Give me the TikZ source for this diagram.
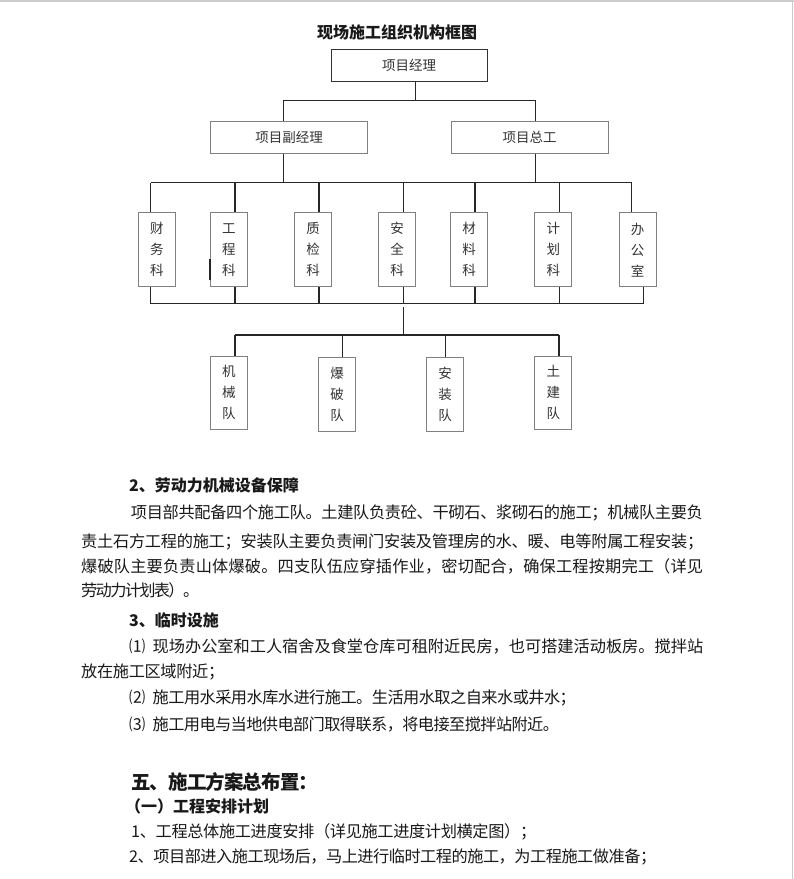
\documentclass[tikz,border=0pt]{standalone}
\usepackage{fontspec}
\setmainfont{Noto Sans CJK SC}
\usepackage{tikz}

% spread the characters of a line over a fixed width
\def\spreadtext#1{\spreadstep#1\relax\relax}
\def\spreadstep#1#2{#1\ifx\relax#2\else\hskip 0pt plus 1fil minus 1fil\expandafter\spreadstep\expandafter#2\fi}
\newcommand\jline[2]{\hbox to #1{\spreadtext{#2}}}

\begin{document}
\begin{tikzpicture}[
    x=1pt, y=-1pt,
    box/.style={draw=black!50, line width=0.9pt, inner sep=0pt, text=black!80,
        font=\fontsize{13.5}{13.5}\selectfont},
    col/.style={box, minimum width=37pt, align=center,
        font=\fontsize{13.5}{21}\selectfont},
    link/.style={draw=black!85, line width=1.1pt},
    txt/.style={anchor=west, inner sep=0pt, text=black!90,
        font=\fontsize{16.2}{16.2}\selectfont},
    head/.style={txt, font=\fontsize{16}{16}\bfseries\selectfont}
]

\fill[white] (0,0) rectangle (794,879);
\useasboundingbox (0,0) rectangle (794,879);

% page edges
\draw[black!20, line width=1.5pt] (0,0.8) -- (794,0.8);
\draw[black!20, line width=1pt] (792.5,0) -- (792.5,879);

\node[head, anchor=center] (title) at (397,32.7) {现场施工组织机构框图};

% managers
\node[box, draw=black!80, line width=1.1pt, minimum width=156.3pt, minimum height=32pt] (pm) at (409.2,65.3) {项目经理};
\node[box, minimum width=157.5pt, minimum height=31.6pt] (dpm) at (289,137.5) {项目副经理};
\node[box, minimum width=157pt, minimum height=31.6pt] (ce) at (529.5,137.5) {项目总工};

% departments
\node[col, minimum height=74pt] (cw) at (156.8,249.7) {财\\务\\科};
\node[col, minimum height=74pt] (gc) at (228.8,249.7) {工\\程\\科};
\node[col, minimum height=74pt] (zj) at (313,249.7) {质\\检\\科};
\node[col, minimum height=74pt] (aq) at (397,249.7) {安\\全\\科};
\node[col, minimum height=74pt] (cl) at (469.2,249.7) {材\\料\\科};
\node[col, minimum height=74pt] (jh) at (553.4,249.7) {计\\划\\科};
\node[col, minimum height=74pt] (bg) at (637.5,249.7) {办\\公\\室};

% teams
\node[col, minimum height=73.3pt] (jx) at (228.8,392.7) {机\\械\\队};
\node[col, minimum height=73.3pt] (bp) at (337.2,394.4) {爆\\破\\队};
\node[col, minimum height=73.3pt] (az) at (445,394.4) {安\\装\\队};
\node[col, minimum height=73.3pt] (tj) at (553.4,392.7) {土\\建\\队};

% buses
\coordinate (b1r) at (535.7,100.7);
\coordinate (b2l) at (150.7,182.5);
\coordinate (b2r) at (631.7,182.5);
\coordinate (b3l) at (150.7,303.5);
\coordinate (b3r) at (643.3,303.5);
\coordinate (hub) at (403.4,307);
\coordinate (b4l) at (235,335);
\coordinate (b4r) at (559,335);

\draw[link] ([xshift=6.1pt]pm.south) -- ([xshift=6.1pt]pm.south |- b1r);
\draw[link] ([xshift=-5.7pt]dpm.north) |- (b1r) -- ([xshift=6.2pt]ce.north);

\draw[link] (b2l) -- (b2r);
\draw[link] ([xshift=-5.7pt]dpm.south) -- ([xshift=-5.7pt]dpm.south |- b2l);
\draw[link] ([xshift=6.2pt]ce.south) -- ([xshift=6.2pt]ce.south |- b2l);
\foreach \n/\s in {cw/-6.1, gc/6.2, zj/6, aq/6.4, cl/5.8, jh/5.9, bg/-5.8}
    \draw[link] ([xshift=\s pt]\n.north) -- ([xshift=\s pt]\n.north |- b2l);

\draw[link] (b3l) -- (b3r);
\foreach \n/\s in {cw/-6.1, gc/6.2, zj/6, aq/6.4, cl/5.8, jh/5.9, bg/5.8}
    \draw[link] ([xshift=\s pt]\n.south) -- ([xshift=\s pt]\n.south |- b3l);

\draw[link] (hub) -- (hub |- b4l);
\draw[link] (b4l) -- (b4r);
\foreach \n/\s in {jx/6.2, bp/5.6, az/0.4, tj/5.6}
    \draw[link] ([xshift=\s pt]\n.north) -- ([xshift=\s pt]\n.north |- b4l);

% dark stroke on the left side of gc
\draw[black!85, line width=1.5pt] ([yshift=-9.5pt]gc.west) -- ([yshift=-30.2pt]gc.west);

% text below the chart
\node[head] (h2) at (129,485) {2、劳动力机械设备保障};
\node[txt] (p1) at (130.7,513.3) {\jline{572pt}{项目部共配备四个施工队。土建队负责砼、干砌石、浆砌石的施工；机械队主要负}};
\node[txt] (p2) at (81,541.7) {\jline{622pt}{责土石方工程的施工；安装队主要负责闸门安装及管理房的水、暖、电等附属工程安装；}};
\node[txt] (p3) at (81,566.7) {\jline{622pt}{爆破队主要负责山体爆破。四支队伍应穿插作业，密切配合，确保工程按期完工（详见}};
\node[txt] (p4) at (81,590) {\jline{118pt}{劳动力计划表）。}};

\node[head] (h3) at (129,620) {3、临时设施};
\node[txt] (q1) at (129,646.7) {\hbox to 574pt{\hbox to 23.5pt{⑴\hss}\spreadtext{现场办公室和工人宿舍及食堂仓库可租附近民房，也可搭建活动板房。搅拌站}}};
\node[txt] (q2) at (81,671.7) {\jline{143pt}{放在施工区域附近；}};
\node[txt] (q3) at (129,698) {\hbox to 446.7pt{\hbox to 23.5pt{⑵\hss}\spreadtext{施工用水采用水库水进行施工。生活用水取之自来水或井水；}}};
\node[txt] (q4) at (129,725) {\hbox to 429.8pt{\hbox to 23.5pt{⑶\hss}\spreadtext{施工用电与当地供电部门取得联系，将电接至搅拌站附近。}}};

\node[head, font=\fontsize{19.5}{19.5}\bfseries\selectfont] (h5) at (131,781.7) {\jline{187pt}{五、施工方案总布置：}};
\node[head] (h6) at (125,806.7) {（一）工程安排计划};
\node[txt] (r1) at (131,831.7) {\jline{405pt}{1、工程总体施工进度安排（详见施工进度计划横定图）；}};
\node[txt] (r2) at (129,857) {\jline{527pt}{2、项目部进入施工现场后，马上进行临时工程的施工，为工程施工做准备；}};

\end{tikzpicture}
\end{document}
